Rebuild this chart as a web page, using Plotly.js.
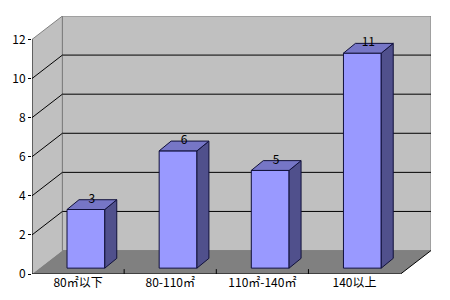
<!DOCTYPE html>
<html>
<head>
<meta charset="utf-8">
<script src="https://cdn.plot.ly/plotly-3.0.1.min.js"></script>
<style>html,body{margin:0;padding:0;background:#fff;}#chart{width:450px;height:300px;}</style>
</head>
<body>
<div id="chart"></div>
<script>
// ---- data ----
const categories = ['80㎡以下', '80-110㎡', '110㎡-140㎡', '140以上'];
const counts = [3, 6, 5, 11];
const yTickVals = [0, 2, 4, 6, 8, 10, 12];
const yTickText = ['0', '2', '4', '6', '8', '10', '12'];
const gridVals = [2, 4, 6, 8, 10];

// ---- 3D projection constants (styling) ----
const YMAX = 12;
const NCAT = categories.length;
const DX = 0.33, DY = 1.2;      // wall depth (x units, y units)
const BF_X = 0.085, BF_Y = 0.3; // bar front-face offset into floor
const BD_X = 0.13, BD_Y = 0.5;  // bar depth
const BW = 0.41;                // bar width

const FONT = '"Noto Sans CJK SC", "DejaVu Sans", sans-serif';
const EDGE = '#10103a';

const xc = categories.map((c, i) => i + 0.5 + BF_X);

// top and side faces
const topX = [], topY = [], sideX = [], sideY = [];
counts.forEach((v, i) => {
  const xl = xc[i] - BW / 2, xr = xc[i] + BW / 2, t = BF_Y + v;
  topX.push(xl, xr, xr + BD_X, xl + BD_X, xl, null);
  topY.push(t, t, t + BD_Y, t + BD_Y, t, null);
  sideX.push(xr, xr, xr + BD_X, xr + BD_X, xr, null);
  sideY.push(BF_Y, t, t + BD_Y, BF_Y + BD_Y, BF_Y, null);
});

const traces = [
  {
    type: 'bar', x: xc, y: counts, base: BF_Y, width: BW,
    marker: {color: '#9999ff', line: {color: EDGE, width: 1}},
    hoverinfo: 'skip', showlegend: false
  },
  {
    type: 'scatter', mode: 'lines', x: sideX, y: sideY, fill: 'toself',
    fillcolor: '#50508c', line: {color: EDGE, width: 1},
    hoverinfo: 'skip', showlegend: false
  },
  {
    type: 'scatter', mode: 'lines', x: topX, y: topY, fill: 'toself',
    fillcolor: '#7676c6', line: {color: EDGE, width: 1},
    hoverinfo: 'skip', showlegend: false
  },
  {
    type: 'scatter', mode: 'text',
    x: xc.map(x => x + BD_X / 2),
    y: counts.map(v => BF_Y + v + BD_Y),
    text: counts.map(String), textposition: 'middle center',
    textfont: {family: FONT, size: 12, color: '#000'},
    hoverinfo: 'skip', showlegend: false
  }
];

const shapes = [];
// left side wall
shapes.push({type: 'path', layer: 'below', xref: 'x', yref: 'y',
  path: `M0,0 L0,${YMAX} L${DX},${YMAX + DY} L${DX},${DY} Z`,
  fillcolor: '#c0c0c0', line: {width: 0}});
// back wall
shapes.push({type: 'rect', layer: 'below', xref: 'x', yref: 'y',
  x0: DX, y0: DY, x1: NCAT + DX, y1: YMAX + DY,
  fillcolor: '#c0c0c0', line: {color: '#808080', width: 1}});
// floor
shapes.push({type: 'path', layer: 'below', xref: 'x', yref: 'y',
  path: `M0,0 L${NCAT},0 L${NCAT + DX},${DY} L${DX},${DY} Z`,
  fillcolor: '#808080', line: {width: 0}});
// wall edges
shapes.push({type: 'line', layer: 'below', xref: 'x', yref: 'y',
  x0: 0, y0: YMAX, x1: DX, y1: YMAX + DY, line: {color: '#808080', width: 1}});
shapes.push({type: 'line', layer: 'below', xref: 'x', yref: 'y',
  x0: DX, y0: DY, x1: DX, y1: YMAX + DY, line: {color: '#808080', width: 1}});
// gridlines
gridVals.forEach(v => {
  shapes.push({type: 'line', layer: 'below', xref: 'x', yref: 'y',
    x0: 0, y0: v, x1: DX, y1: v + DY, line: {color: '#000', width: 1}});
  shapes.push({type: 'line', layer: 'below', xref: 'x', yref: 'y',
    x0: DX, y0: v + DY, x1: NCAT + DX, y1: v + DY, line: {color: '#000', width: 1}});
});
// axes lines
shapes.push({type: 'line', layer: 'below', xref: 'x', yref: 'y',
  x0: 0, y0: 0, x1: 0, y1: YMAX, line: {color: '#000', width: 1}});
shapes.push({type: 'line', layer: 'below', xref: 'x', yref: 'y',
  x0: 0, y0: 0, x1: NCAT, y1: 0, line: {color: '#000', width: 1}});
shapes.push({type: 'line', layer: 'below', xref: 'x', yref: 'y',
  x0: NCAT, y0: 0, x1: NCAT + DX, y1: DY, line: {color: '#000', width: 1}});
// category boundary ticks
for (let i = 1; i < NCAT; i++) {
  shapes.push({type: 'line', layer: 'below', xref: 'x', yref: 'y',
    x0: i, y0: -0.05, x1: i, y1: 0.25, line: {color: '#000', width: 1}});
}

const layout = {
  width: 450, height: 300,
  margin: {l: 32, r: 19, t: 16, b: 26, pad: 0},
  paper_bgcolor: '#ffffff', plot_bgcolor: 'rgba(0,0,0,0)',
  showlegend: false,
  font: {family: FONT, size: 12, color: '#000'},
  xaxis: {
    range: [0, NCAT + DX], showgrid: false, zeroline: false, showline: false,
    tickvals: categories.map((c, i) => i + 0.5), ticktext: categories,
    ticks: '', tickfont: {family: FONT, size: 12, color: '#000'}, fixedrange: true
  },
  yaxis: {
    range: [0, YMAX + DY], showgrid: false, zeroline: false, showline: false,
    tickvals: yTickVals, ticktext: yTickText, ticks: 'outside', ticklen: 3,
    tickcolor: '#000', tickfont: {family: FONT, size: 12, color: '#000'}, fixedrange: true
  },
  shapes: shapes
};

Plotly.newPlot('chart', traces, layout, {displayModeBar: false, staticPlot: true});
</script>
</body>
</html>
